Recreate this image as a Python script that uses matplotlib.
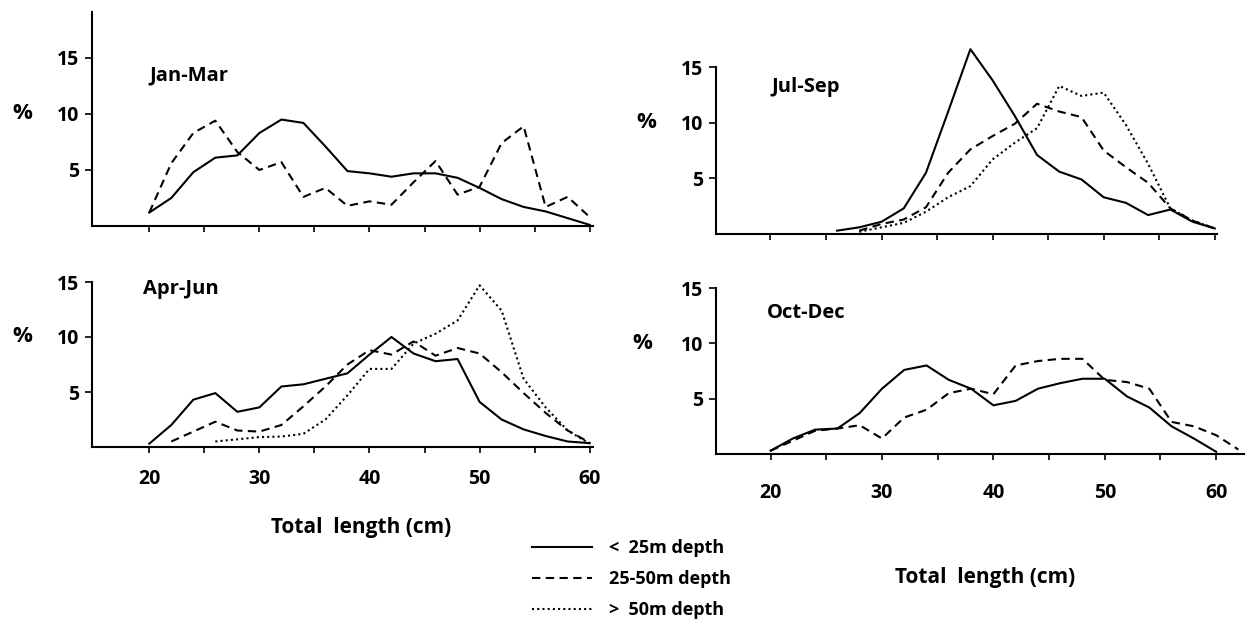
import matplotlib

matplotlib.use("Agg")
import matplotlib.pyplot as plt

plt.rcParams["font.family"] = ["Open Sans", "DejaVu Sans"]
plt.rcParams["font.weight"] = "bold"

# total length classes (cm), one point every 2 cm
length = [20, 22, 24, 26, 28, 30, 32, 34, 36, 38, 40,
          42, 44, 46, 48, 50, 52, 54, 56, 58, 60]
length_22 = length[1:]
length_26 = length[3:]
length_28 = length[4:]
length_ext = length + [62]

# % frequency per depth stratum
jan_mar_shallow = [1.2, 2.5, 4.8, 6.1, 6.3, 8.3, 9.5, 9.2, 7.1, 4.9, 4.7,
                   4.4, 4.7, 4.7, 4.3, 3.4, 2.4, 1.7, 1.3, 0.7, 0.1]
jan_mar_mid = [1.2, 5.6, 8.3, 9.4, 6.6, 5.0, 5.7, 2.6, 3.4, 1.8, 2.2,
               1.9, 3.9, 5.8, 2.8, 3.5, 7.4, 8.9, 1.7, 2.6, 0.8]

apr_jun_shallow = [0.3, 2.0, 4.3, 4.9, 3.2, 3.6, 5.5, 5.7, 6.2, 6.7, 8.4,
                   10.0, 8.5, 7.8, 8.0, 4.1, 2.5, 1.6, 1.0, 0.5, 0.35]
apr_jun_mid = [0.5, 1.4, 2.3, 1.5, 1.4, 2.0, 3.7, 5.5, 7.5, 8.8,
               8.4, 9.6, 8.3, 9.0, 8.5, 6.8, 4.9, 3.1, 1.5, 0.4]
apr_jun_deep = [0.5, 0.7, 0.9, 0.95, 1.2, 2.5, 4.7, 7.1, 7.1,
                9.4, 10.3, 11.5, 14.7, 12.4, 6.2, 3.6, 1.5, 0.3]

jul_sep_shallow = [0.3, 0.6, 1.1, 2.3, 5.5, 11.0, 16.6, 13.8, 10.6,
                   7.1, 5.6, 4.9, 3.3, 2.8, 1.7, 2.2, 1.1, 0.5]
jul_sep_mid = [0.3, 0.9, 1.3, 2.4, 5.5, 7.6, 8.8, 9.9, 11.7,
               11.0, 10.5, 7.5, 6.0, 4.6, 2.3, 1.2, 0.5]
jul_sep_deep = [0.2, 0.6, 1.0, 2.0, 3.3, 4.3, 6.7, 8.2, 9.5,
                13.3, 12.4, 12.7, 9.8, 6.3, 2.3, 1.2, 0.5]

oct_dec_shallow = [0.3, 1.4, 2.2, 2.3, 3.7, 5.9, 7.6, 8.0, 6.7, 5.9, 4.4,
                   4.8, 5.9, 6.4, 6.8, 6.8, 5.2, 4.2, 2.5, 1.4, 0.2]
oct_dec_mid = [0.3, 1.2, 2.1, 2.3, 2.6, 1.4, 3.3, 4.0, 5.5, 5.9, 5.4,
               8.0, 8.4, 8.6, 8.6, 6.7, 6.5, 5.9, 2.9, 2.5, 1.7, 0.4]

x_ticks = [20, 25, 30, 35, 40, 45, 50, 55, 60]
x_labels = ["20", "", "30", "", "40", "", "50", "", "60"]
y_ticks = [5, 10, 15]
legend_labels = ["<  25m depth", "25-50m depth", ">  50m depth"]

SOLID = "-"
DASHED = (0, (4, 2.6))
DOTTED = (0, (1, 1.5))
LW = 1.5
FS = 14

W, H = 1247, 626
fig = plt.figure(figsize=(W / 100, H / 100), dpi=100)
fig.patch.set_facecolor("white")


def px_axes(left, right, base, top):
    return fig.add_axes([left / W, 1 - base / H, (right - left) / W, (base - top) / H])


ax_tl = px_axes(92, 593, 226, 12)
ax_bl = px_axes(92, 593, 447, 282)
ax_tr = px_axes(716, 1217, 234, 67)
ax_br = px_axes(716, 1244, 454, 288)

ax_tl.set_ylim(0, 19.1)
for a in (ax_bl, ax_tr, ax_br):
    a.set_ylim(0, 15)
for a in (ax_tl, ax_bl):
    a.set_xlim(14.8, 60.3)
ax_tr.set_xlim(15.1, 60.2)
ax_br.set_xlim(15.1, 62.5)

for a in (ax_tl, ax_bl, ax_tr, ax_br):
    for s in ("top", "right"):
        a.spines[s].set_visible(False)
    for s in ("left", "bottom"):
        a.spines[s].set_linewidth(1.5)
    a.set_yticks(y_ticks)
    a.set_yticklabels([str(v) for v in y_ticks], fontsize=FS)
    a.set_xticks(x_ticks)
    a.tick_params(axis="y", direction="out", length=5, width=1.2, pad=4)
    a.tick_params(axis="x", direction="out", length=4, width=1.2)
    a.text(-0.14, 10, "%", transform=a.get_yaxis_transform(), fontsize=FS + 2,
           ha="center", va="center")

for a in (ax_tl, ax_tr):
    a.set_xticklabels([])
ax_bl.set_xticklabels(x_labels, fontsize=FS)
ax_bl.tick_params(axis="x", pad=12)
ax_br.set_xticklabels(x_labels, fontsize=FS)
ax_br.tick_params(axis="x", pad=17)

# Jan-Mar
ax_tl.plot(length, jan_mar_shallow, color="black", ls=SOLID, lw=LW)
ax_tl.plot(length, jan_mar_mid, color="black", ls=DASHED, lw=LW)
ax_tl.text(20, 13.4, "Jan-Mar", fontsize=FS + 0.5, va="center")

# Apr-Jun
h1, = ax_bl.plot(length, apr_jun_shallow, color="black", ls=SOLID, lw=LW)
h2, = ax_bl.plot(length_22, apr_jun_mid, color="black", ls=DASHED, lw=LW)
h3, = ax_bl.plot(length_26, apr_jun_deep, color="black", ls=DOTTED, lw=LW)
ax_bl.text(19.4, 14.4, "Apr-Jun", fontsize=FS + 0.5, va="center")

# Jul-Sep
ax_tr.plot(length_26, jul_sep_shallow, color="black", ls=SOLID, lw=LW, clip_on=False)
ax_tr.plot(length_28, jul_sep_mid, color="black", ls=DASHED, lw=LW, clip_on=False)
ax_tr.plot(length_28, jul_sep_deep, color="black", ls=DOTTED, lw=LW, clip_on=False)
ax_tr.text(20.1, 13.2, "Jul-Sep", fontsize=FS + 0.5, va="center")

# Oct-Dec
ax_br.plot(length, oct_dec_shallow, color="black", ls=SOLID, lw=LW)
ax_br.plot(length_ext, oct_dec_mid, color="black", ls=DASHED, lw=LW)
ax_br.text(19.7, 12.7, "Oct-Dec", fontsize=FS + 0.5, va="center")

fig.text(361 / W, 1 - 527 / H, "Total  length (cm)", fontsize=FS + 1,
         ha="center", va="center")
fig.text(985 / W, 1 - 577 / H, "Total  length (cm)", fontsize=FS + 1,
         ha="center", va="center")

fig.legend([h1, h2, h3], legend_labels, loc="upper left",
           bbox_to_anchor=(532 / W, 1 - 539 / H), frameon=False,
           fontsize=13, handlelength=3.3, handletextpad=0.95,
           labelspacing=0.72, borderpad=0, borderaxespad=0)

fig.savefig("out.png", dpi=100, facecolor="white")
plt.close(fig)
